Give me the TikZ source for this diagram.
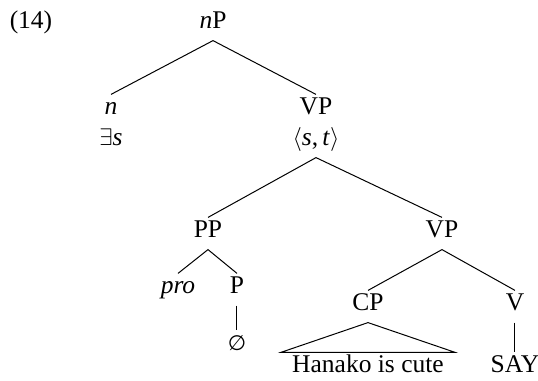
\documentclass[tikz,border=0pt]{standalone}
\usepackage{fontspec}
\setmainfont{Liberation Serif}
\newfontfamily\symfont{DejaVu Sans}
\begin{document}
\begin{tikzpicture}[x=0.5pt,y=-0.5pt,
  every node/.style={font=\fontsize{12.75}{15}\selectfont},
  lab/.style={anchor=base,inner xsep=0pt,inner ysep=2.6pt,text height=0.7em,text depth=0.35em},
  edge/.style={draw=black,line width=0.5pt}]
\useasboundingbox (0,0) rectangle (538,381);
\node[lab] (ex) at (31,28) {(14)};
\node[lab] (np) at (213,28) {\textit{n}P};
\node[lab] (n) at (111,114) {\textit{n}};
\node[lab] (nsem) at (111,145) {$\exists$\textit{s}};
\node[lab] (vp) at (316,114) {VP};
\node[lab] (vpsem) at (316,145) {$\langle$\textit{s},\,\textit{t}$\rangle$};
\node[lab] (pp) at (208,237) {PP};
\node[lab] (vp2) at (442,237) {VP};
\node[lab] (pro) at (178,293) {\textit{pro}};
\node[lab] (p) at (237,293) {P};
\node[lab] (cp) at (368,310) {CP};
\node[lab] (v) at (515,310) {V};
\node[lab] (null) at (237,350) {{\symfont\fontsize{10.5}{14}\selectfont ∅}};
\node[lab,inner xsep=5.5pt] (hk) at (368,372) {Hanako is cute};
\node[lab] (say) at (515,372) {SAY};
\draw[edge] (n.north) -- (np.south) -- (vp.north);
\draw[edge] (pp.north) -- (vpsem.south) -- (vp2.north);
\draw[edge] (pro.north) -- (pp.south) -- (p.north);
\draw[edge] (p.south) -- (null.north);
\draw[edge] (cp.north) -- (vp2.south) -- (v.north);
\draw[edge] (v.south) -- (say.north);
\draw[edge] (cp.south) -- (hk.north west) -- (hk.north east) -- cycle;
\end{tikzpicture}
\end{document}
